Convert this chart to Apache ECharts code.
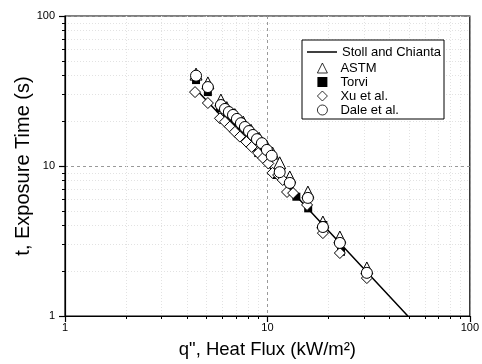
<!DOCTYPE html>
<html><head><meta charset="utf-8">
<script src="https://cdn.jsdelivr.net/npm/echarts@6/dist/echarts.min.js"></script>
<style>html,body{margin:0;padding:0;background:#fff}#c{width:482px;height:364px}</style>
</head><body><div id="c"></div>
<script>
const majorTicks = [1, 10, 100];
const minorTicks = [2,3,4,5,6,7,8,9,20,30,40,50,60,70,80,90];
const seriesNames = ['Stoll and Chianta', 'ASTM', 'Torvi', 'Xu et al.', 'Dale et al.'];
const stollLine = [[4.47,32.1],[10.4,9.6],[22.85,3.05],[49.4,1.0]];
const astm = [[4.44,41.0],[5.08,35.8],[5.89,27.5],[6.3,24.5],[6.9,22.0],[7.6,19.6],[8.3,17.3],[9.1,15.3],[9.9,13.6],[10.6,12.2],[11.5,10.5],[12.9,8.45],[15.85,6.7],[18.8,4.23],[22.8,3.36],[31.0,2.09]];
const torvi = [[4.44,37.4],[5.08,31.1],[5.83,24.3],[6.3,21.6],[6.8,19.3],[7.31,16.9],[8.0,15.3],[9.01,12.2],[10.1,11.2],[11.1,8.71],[12.9,7.1],[13.9,6.24],[15.9,5.22],[18.9,4.04],[23.1,2.68],[31.0,1.85]];
const xu = [[4.39,31.1],[5.08,26.3],[5.83,20.8],[6.17,19.7],[6.52,18.3],[6.91,16.9],[7.31,15.7],[7.87,14.5],[8.36,13.4],[9.0,12.2],[9.51,11.3],[10.1,10.4],[10.6,9.0],[11.3,8.71],[11.9,8.07],[12.5,6.71],[13.4,6.6],[15.7,5.5],[18.8,3.57],[22.8,2.63],[31.0,1.79]];
const dale = [[4.44,40.0],[5.08,33.6],[5.89,25.5],[6.17,24.0],[6.45,22.9],[6.76,21.9],[7.07,20.6],[7.40,19.3],[7.74,18.2],[8.11,17.1],[8.48,16.1],[8.88,15.1],[9.39,14.2],[9.94,12.8],[10.5,11.7],[11.5,9.1],[12.9,7.71],[15.85,6.13],[18.8,3.92],[22.8,3.07],[31.0,1.94]];

const FONT = 'Liberation Sans, Arial, sans-serif';
const chart = echarts.init(document.getElementById('c'), null, {renderer: 'canvas'});

function majorAxis(isX) {
  return {
    type: 'log', logBase: 10, min: 1, max: 100,
    position: isX ? 'bottom' : 'left',
    name: isX ? 'q", Heat Flux (kW/m²)' : 't, Exposure Time (s)',
    nameLocation: 'middle',
    nameGap: isX ? 24 : 32,
    nameMoveOverlap: false,
    nameTextStyle: {fontFamily: FONT, fontSize: isX ? 18.5 : 20, color: '#000'},
    axisLine: {show: true, onZero: false, lineStyle: {color: '#000', width: 1.2}},
    axisTick: {show: true, inside: false, length: 6, customValues: majorTicks, lineStyle: {color: '#000', width: 1.2}},
    axisLabel: {show: true, customValues: majorTicks, margin: isX ? 6 : 10, fontFamily: FONT, fontSize: 11, color: '#000'},
    splitLine: {show: true, lineStyle: {color: '#999', type: [3, 3], width: 1}},
    minorTick: {show: false}
  };
}
function minorAxis(isX) {
  return {
    type: 'log', logBase: 10, min: 1, max: 100,
    position: isX ? 'bottom' : 'left',
    axisLine: {show: false},
    axisTick: {show: true, inside: false, length: 3, customValues: minorTicks, lineStyle: {color: '#000', width: 1}},
    axisLabel: {show: false},
    splitLine: {show: true, lineStyle: {color: '#e2e2e2', type: [1, 2], width: 1}}
  };
}
const mk = (fill) => ({color: fill, borderColor: '#000', borderWidth: 1, opacity: 1});

chart.setOption({
  animation: false,
  backgroundColor: '#fff',
  grid: {left: 65, right: 12, top: 16, bottom: 48, show: true, borderColor: '#000', borderWidth: 1.2, backgroundColor: 'transparent'},
  xAxis: [majorAxis(true), minorAxis(true)],
  yAxis: [majorAxis(false), minorAxis(false)],
  graphic: {elements: [{type: 'rect', z: 3, shape: {x: 302, y: 40, width: 142, height: 79}, style: {fill: '#fff', stroke: '#000', lineWidth: 1}}]},
  legend: [
    {data: [{name: seriesNames[0], icon: 'rect'}], left: 307, top: 45, padding: 0, itemWidth: 30, itemHeight: 1.5, z: 5,
     itemStyle: {color: '#000', borderWidth: 0},
     textStyle: {fontFamily: FONT, fontSize: 13, color: '#000', lineHeight: 14}},
    {data: seriesNames.slice(1), orient: 'vertical', left: 317, top: 61, padding: 0, itemWidth: 10, itemHeight: 10, itemGap: 0, z: 5,
     itemStyle: {borderWidth: 0.8},
     textStyle: {fontFamily: FONT, fontSize: 13, color: '#000', lineHeight: 14, padding: [0, 0, 0, 8]}}
  ],
  series: [
    {name: seriesNames[0], type: 'line', data: stollLine, symbol: 'none', showSymbol: false, lineStyle: {color: '#000', width: 1.5}, itemStyle: {color: '#000'}, z: 2},
    {name: seriesNames[1], type: 'scatter', data: astm, symbol: 'triangle', symbolSize: 12, itemStyle: mk('#fff'), z: 3},
    {name: seriesNames[2], type: 'scatter', data: torvi, symbol: 'rect', symbolSize: 8, itemStyle: {color: '#000', borderWidth: 0, opacity: 1}, z: 3},
    {name: seriesNames[3], type: 'scatter', data: xu, symbol: 'diamond', symbolSize: 11, itemStyle: mk('#fff'), z: 3},
    {name: seriesNames[4], type: 'scatter', data: dale, symbol: 'circle', symbolSize: 11, itemStyle: mk('#fff'), z: 3}
  ]
});
</script></body></html>
